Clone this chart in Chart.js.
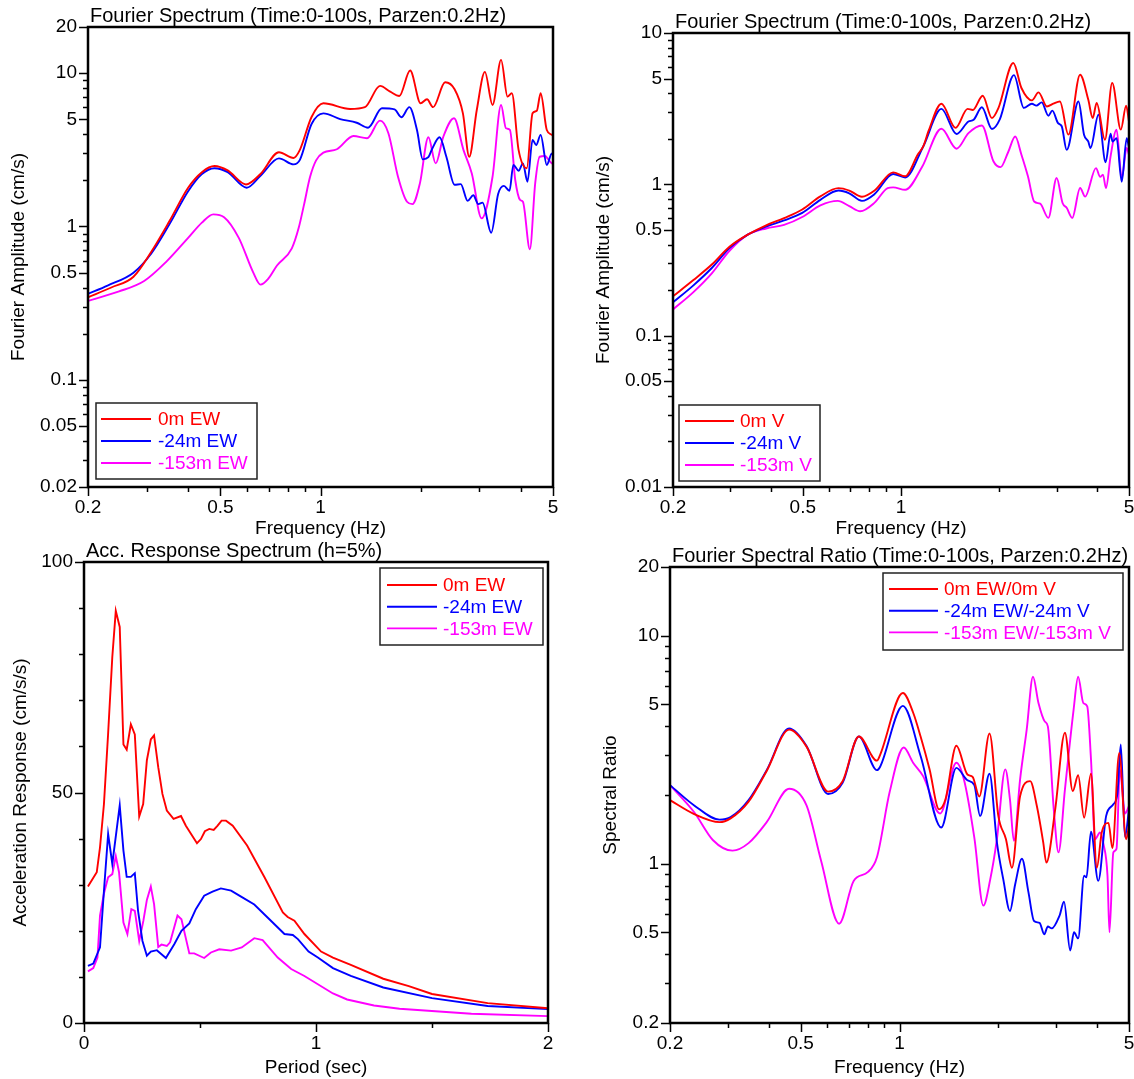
<!DOCTYPE html>
<html>
<head>
<meta charset="utf-8">
<script src="https://cdn.jsdelivr.net/npm/chart.js@4.4.1/dist/chart.umd.min.js"></script>
<style>
  html, body { margin: 0; padding: 0; background: #fff; overflow: hidden; }
  #wrap { position: relative; width: 1134px; height: 1079px; }
  canvas { position: absolute; }
</style>
</head>
<body>
<div id="wrap">
  <canvas id="fsEw" width="567" height="540" style="left:0;top:0"></canvas>
  <canvas id="fsV" width="567" height="540" style="left:567px;top:0"></canvas>
  <canvas id="rsEw" width="567" height="539" style="left:0;top:540px"></canvas>
  <canvas id="ratio" width="567" height="539" style="left:567px;top:540px"></canvas>
</div>
<script>
// ---- Fourier spectrum, EW (cm/s) ----
const ewFreq0 = [0.2, 0.235, 0.274, 0.31, 0.352, 0.40, 0.44, 0.48, 0.526, 0.597, 0.66, 0.75, 0.83, 0.867, 0.94, 1.02, 1.227, 1.36, 1.51, 1.62, 1.726, 1.86, 2.0, 2.09, 2.18, 2.37, 2.53, 2.68, 2.80, 2.95, 3.12, 3.29, 3.49, 3.65, 3.76, 3.94, 4.17, 4.34, 4.47, 4.59, 4.79, 4.96, 5.0];
const ewAmp0 = [0.345, 0.40, 0.47, 0.685, 1.09, 1.79, 2.26, 2.48, 2.32, 1.88, 2.2, 3.05, 2.8, 3.16, 5.18, 6.36, 5.84, 6.0, 8.26, 7.57, 7.1, 10.4, 6.36, 6.76, 6.0, 8.72, 7.85, 5.47, 2.85, 5.75, 10.2, 6.2, 12.2, 7.03, 7.4, 3.16, 2.4, 5.47, 5.69, 7.4, 4.26, 3.96, 3.9];
const ewFreq24 = [0.2, 0.229, 0.274, 0.31, 0.352, 0.40, 0.44, 0.48, 0.526, 0.6, 0.66, 0.75, 0.83, 0.867, 0.94, 1.02, 1.146, 1.285, 1.39, 1.53, 1.67, 1.75, 1.85, 1.95, 2.03, 2.11, 2.17, 2.28, 2.39, 2.53, 2.64, 2.77, 2.88, 2.98, 3.07, 3.26, 3.42, 3.56, 3.70, 3.80, 3.94, 4.06, 4.19, 4.34, 4.45, 4.59, 4.79, 4.96, 5.0];
const ewAmp24 = [0.364, 0.412, 0.5, 0.667, 1.04, 1.70, 2.2, 2.4, 2.26, 1.79, 2.14, 2.78, 2.54, 2.72, 4.66, 5.47, 5.02, 4.75, 4.41, 5.9, 5.8, 5.16, 6.0, 4.26, 2.74, 2.83, 3.24, 3.82, 2.85, 1.87, 1.89, 1.47, 1.6, 1.40, 1.43, 0.91, 1.63, 1.84, 1.71, 2.52, 2.31, 2.58, 1.96, 3.67, 3.4, 3.96, 2.52, 3.0, 2.9];
const ewFreq153 = [0.2, 0.248, 0.295, 0.343, 0.40, 0.44, 0.476, 0.513, 0.568, 0.628, 0.66, 0.694, 0.74, 0.82, 0.86, 0.893, 0.93, 0.97, 1.02, 1.12, 1.256, 1.38, 1.51, 1.6, 1.71, 1.82, 1.89, 1.99, 2.11, 2.22, 2.34, 2.52, 2.69, 2.85, 3.05, 3.29, 3.49, 3.61, 3.71, 3.85, 3.98, 4.06, 4.26, 4.42, 4.56, 4.73, 4.84, 4.96, 5.0];
const ewAmp153 = [0.327, 0.377, 0.441, 0.586, 0.843, 1.06, 1.2, 1.15, 0.843, 0.5, 0.418, 0.452, 0.557, 0.72, 0.98, 1.4, 2.1, 2.7, 3.03, 3.19, 3.89, 3.76, 4.9, 4.06, 2.11, 1.45, 1.40, 1.91, 3.82, 2.58, 3.85, 5.08, 3.16, 2.22, 1.13, 2.11, 6.2, 4.37, 4.26, 2.01, 1.49, 1.45, 0.71, 1.91, 2.85, 2.88, 2.74, 2.58, 2.55];

// ---- Fourier spectrum, V (cm/s) ----
const vFreq0 = [0.2, 0.231, 0.263, 0.298, 0.339, 0.386, 0.438, 0.498, 0.566, 0.643, 0.694, 0.759, 0.83, 0.946, 1.03, 1.127, 1.17, 1.217, 1.33, 1.47, 1.6, 1.66, 1.78, 1.9, 1.99, 2.21, 2.34, 2.52, 2.64, 2.8, 2.93, 3.07, 3.26, 3.54, 3.75, 3.87, 3.98, 4.22, 4.44, 4.72, 4.9, 5.0];
const vAmp0 = [0.182, 0.233, 0.295, 0.387, 0.465, 0.536, 0.598, 0.682, 0.833, 0.944, 0.91, 0.828, 0.91, 1.2, 1.13, 1.58, 1.78, 2.28, 3.41, 2.36, 3.15, 3.1, 3.85, 2.74, 3.2, 6.34, 4.33, 3.59, 4.05, 3.27, 3.41, 3.53, 2.13, 5.3, 3.63, 2.74, 3.45, 1.97, 4.68, 2.3, 3.31, 2.6];
const vFreq24 = [0.2, 0.231, 0.263, 0.298, 0.339, 0.386, 0.438, 0.498, 0.566, 0.643, 0.694, 0.759, 0.83, 0.946, 1.03, 1.17, 1.33, 1.48, 1.61, 1.67, 1.77, 1.9, 2.01, 2.22, 2.38, 2.52, 2.6, 2.7, 2.83, 2.91, 3.03, 3.11, 3.22, 3.5, 3.64, 3.75, 3.81, 4.03, 4.24, 4.39, 4.45, 4.58, 4.75, 4.92, 5.0];
const vAmp24 = [0.166, 0.215, 0.28, 0.379, 0.465, 0.525, 0.577, 0.647, 0.79, 0.91, 0.872, 0.777, 0.863, 1.17, 1.11, 1.78, 3.15, 2.15, 2.6, 2.67, 3.23, 2.32, 2.7, 5.27, 3.2, 3.41, 3.31, 3.48, 2.84, 3.07, 2.54, 2.42, 1.69, 3.53, 2.13, 1.92, 1.74, 2.88, 1.4, 2.16, 1.92, 2.02, 1.04, 2.02, 1.74];
const vFreq153 = [0.2, 0.231, 0.263, 0.298, 0.339, 0.386, 0.438, 0.498, 0.566, 0.64, 0.694, 0.75, 0.83, 0.91, 0.946, 1.03, 1.16, 1.33, 1.48, 1.61, 1.77, 1.92, 2.02, 2.13, 2.24, 2.34, 2.45, 2.56, 2.67, 2.83, 3.0, 3.13, 3.22, 3.35, 3.54, 3.67, 3.96, 4.08, 4.16, 4.25, 4.39, 4.58, 4.75, 4.92, 5.0];
const vAmp153 = [0.149, 0.194, 0.258, 0.364, 0.465, 0.511, 0.539, 0.608, 0.726, 0.777, 0.718, 0.664, 0.757, 0.944, 0.955, 0.92, 1.3, 2.33, 1.72, 2.18, 2.45, 1.42, 1.3, 1.63, 2.07, 1.57, 1.13, 0.77, 0.745, 0.6, 1.1, 0.75, 0.7, 0.6, 0.945, 0.83, 1.28, 1.12, 1.16, 0.945, 1.53, 2.3, 1.1, 1.74, 1.57];

// ---- Acceleration response spectrum, h=5% (cm/s/s) ----
const rsPer0 = [0.017, 0.055, 0.069, 0.086, 0.104, 0.122, 0.137, 0.154, 0.170, 0.184, 0.202, 0.219, 0.238, 0.255, 0.271, 0.288, 0.302, 0.320, 0.338, 0.357, 0.386, 0.418, 0.439, 0.487, 0.504, 0.521, 0.540, 0.559, 0.576, 0.593, 0.612, 0.641, 0.703, 0.778, 0.857, 0.878, 0.907, 0.95, 1.022, 1.073, 1.15, 1.29, 1.4, 1.5, 1.74, 2.0];
const rsAcc0 = [29.6, 32.7, 38.1, 47.5, 62.8, 79.4, 89.4, 85.9, 60.4, 59.3, 64.8, 62.6, 44.8, 47.5, 57.0, 61.5, 62.4, 55.5, 49.7, 46.1, 44.3, 44.9, 42.8, 39.0, 39.9, 41.6, 42.1, 41.9, 42.8, 43.9, 43.9, 42.8, 38.5, 31.6, 24.0, 23.0, 22.2, 19.3, 15.5, 14.2, 12.6, 9.6, 8.0, 6.3, 4.3, 3.2];
const rsPer24 = [0.017, 0.04, 0.069, 0.086, 0.104, 0.122, 0.154, 0.170, 0.184, 0.202, 0.219, 0.233, 0.252, 0.271, 0.288, 0.314, 0.353, 0.389, 0.42, 0.454, 0.482, 0.518, 0.554, 0.59, 0.634, 0.677, 0.734, 0.799, 0.864, 0.9, 0.922, 0.968, 1.008, 1.073, 1.15, 1.29, 1.5, 1.74, 2.0];
const rsAcc24 = [12.4, 12.9, 16.4, 28.7, 41.0, 34.5, 47.2, 37.4, 31.7, 31.7, 32.5, 24.3, 17.8, 14.6, 15.5, 15.8, 14.1, 17.1, 20.0, 21.6, 24.7, 27.6, 28.5, 29.2, 28.7, 27.4, 25.7, 22.5, 19.3, 19.1, 18.2, 15.5, 14.2, 11.9, 10.2, 7.7, 5.4, 3.7, 3.0];
const rsPer153 = [0.017, 0.04, 0.058, 0.069, 0.086, 0.104, 0.122, 0.137, 0.151, 0.170, 0.187, 0.204, 0.219, 0.238, 0.256, 0.271, 0.288, 0.302, 0.32, 0.334, 0.357, 0.371, 0.403, 0.42, 0.454, 0.475, 0.518, 0.547, 0.583, 0.634, 0.68, 0.734, 0.77, 0.835, 0.893, 0.95, 1.073, 1.134, 1.25, 1.36, 1.67, 2.0];
const rsAcc153 = [11.2, 11.9, 14.2, 23.3, 28.1, 31.6, 32.3, 36.2, 32.7, 21.8, 19.3, 24.7, 24.3, 17.8, 22.2, 26.7, 29.6, 25.8, 16.5, 17.0, 16.7, 17.5, 23.3, 22.5, 15.1, 15.1, 14.1, 15.3, 16.0, 15.7, 16.4, 18.4, 18.0, 14.2, 11.7, 10.2, 6.4, 5.1, 3.8, 3.1, 2.0, 1.5];

// ---- Fourier spectral ratio EW/V ----
const srFreq0 = [0.2, 0.237, 0.283, 0.306, 0.347, 0.394, 0.461, 0.521, 0.606, 0.671, 0.752, 0.854, 0.873, 1.024, 1.1, 1.16, 1.234, 1.32, 1.38, 1.49, 1.61, 1.67, 1.75, 1.88, 2.0, 2.11, 2.2, 2.33, 2.5, 2.62, 2.74, 2.8, 2.98, 3.19, 3.37, 3.5, 3.65, 3.83, 3.99, 4.13, 4.33, 4.45, 4.67, 4.9, 5.0];
const srRatio0 = [1.9, 1.65, 1.52, 1.58, 1.87, 2.55, 3.87, 3.26, 2.07, 2.3, 3.61, 2.83, 3.0, 5.6, 4.6, 3.6, 2.6, 1.73, 1.91, 3.29, 2.46, 2.4, 1.97, 3.72, 1.62, 1.28, 0.96, 1.98, 2.3, 1.79, 1.24, 1.01, 1.73, 3.75, 2.08, 2.44, 1.59, 2.48, 0.96, 1.37, 1.51, 1.17, 3.06, 1.28, 1.47];
const srFreq24 = [0.2, 0.237, 0.283, 0.306, 0.347, 0.394, 0.461, 0.521, 0.606, 0.671, 0.752, 0.854, 0.873, 1.024, 1.16, 1.34, 1.49, 1.61, 1.69, 1.76, 1.88, 1.98, 2.07, 2.17, 2.25, 2.36, 2.47, 2.57, 2.67, 2.76, 2.83, 2.91, 3.07, 3.17, 3.31, 3.4, 3.5, 3.65, 3.71, 3.83, 4.03, 4.26, 4.48, 4.61, 4.72, 4.86, 5.0];
const srRatio24 = [2.21, 1.8, 1.56, 1.6, 1.9, 2.57, 3.92, 3.28, 2.02, 2.26, 3.61, 2.57, 2.66, 4.92, 2.96, 1.44, 2.63, 2.32, 2.21, 1.62, 2.48, 1.24, 0.855, 0.62, 0.81, 1.05, 0.75, 0.56, 0.55, 0.49, 0.53, 0.52, 0.59, 0.68, 0.416, 0.5, 0.47, 0.885, 0.87, 1.38, 0.84, 1.62, 1.82, 2.03, 3.33, 1.31, 1.73];
const srFreq153 = [0.2, 0.237, 0.27, 0.31, 0.347, 0.394, 0.461, 0.521, 0.577, 0.655, 0.725, 0.802, 0.854, 0.934, 1.03, 1.1, 1.18, 1.33, 1.49, 1.57, 1.69, 1.8, 1.89, 1.98, 2.1, 2.17, 2.23, 2.33, 2.44, 2.55, 2.65, 2.77, 2.83, 2.95, 3.05, 3.19, 3.39, 3.5, 3.63, 3.73, 3.83, 3.94, 4.08, 4.18, 4.3, 4.36, 4.48, 4.58, 4.69, 4.86, 5.0];
const srRatio153 = [2.21, 1.68, 1.27, 1.14, 1.23, 1.52, 2.13, 1.8, 1.03, 0.545, 0.84, 0.92, 1.07, 2.07, 3.23, 2.77, 2.42, 1.66, 2.77, 2.35, 1.3, 0.655, 0.855, 1.28, 2.59, 1.91, 1.26, 2.35, 3.87, 6.6, 5.06, 4.2, 4.0, 1.73, 1.12, 2.11, 4.73, 6.6, 5.06, 4.9, 2.87, 1.28, 1.37, 1.22, 0.885, 0.5, 1.12, 1.16, 2.59, 1.66, 1.79];

// tick labels
const freqTicks = [0.2, 0.5, 1, 5];
const fsEwTicks = [0.02, 0.05, 0.1, 0.5, 1, 5, 10, 20];
const fsVTicks = [0.01, 0.05, 0.1, 0.5, 1, 5, 10];
const rsPerTicks = [0, 1, 2];
const rsAccTicks = [0, 50, 100];
const ratioTicks = [0.2, 0.5, 1, 5, 10, 20];

const colors = ['#ff0000', '#0000ff', '#ff00ff'];
Chart.defaults.font.family = "'Liberation Sans', Arial, sans-serif";
Chart.defaults.font.size = 19;
Chart.defaults.color = '#000';

// unlabelled tick marks between the labelled ones (1..9 x decade)
function logMinors(lo, hi, majors) {
  const out = [];
  for (let d = Math.floor(Math.log10(lo)); d <= Math.ceil(Math.log10(hi)); d++) {
    for (let m = 1; m < 10; m++) {
      const v = +(m * Math.pow(10, d)).toPrecision(3);
      if (v >= lo && v <= hi && !majors.includes(v)) out.push(v);
    }
  }
  return out;
}

// box around the plot, outward ticks, title and the boxed legend
const framePlugin = {
  id: 'frame',
  afterDraw(chart, args, opts) {
    const { ctx, chartArea: a, scales } = chart;
    ctx.save();
    ctx.strokeStyle = '#000';
    ctx.lineWidth = 1.5;
    const xMarks = scales.x.ticks.map(t => [t.value, 9]).concat(opts.xMinor.map(v => [v, 5]));
    const yMarks = scales.y.ticks.map(t => [t.value, 9]).concat(opts.yMinor.map(v => [v, 5]));
    ctx.beginPath();
    xMarks.forEach(([v, len]) => {
      const px = Math.round(scales.x.getPixelForValue(v)) + 0.5;
      ctx.moveTo(px, a.bottom); ctx.lineTo(px, a.bottom + len);
    });
    yMarks.forEach(([v, len]) => {
      const py = Math.round(scales.y.getPixelForValue(v)) + 0.5;
      ctx.moveTo(a.left, py); ctx.lineTo(a.left - len, py);
    });
    ctx.stroke();

    ctx.lineWidth = 2.5;
    ctx.strokeRect(a.left, a.top, a.right - a.left, a.bottom - a.top);

    ctx.font = "20px 'Liberation Sans', Arial, sans-serif";
    ctx.fillStyle = '#000';
    ctx.textAlign = 'left';
    ctx.textBaseline = 'alphabetic';
    ctx.fillText(opts.title, a.left + 2, a.top - 5);

    const lg = opts.legend;
    ctx.font = "19px 'Liberation Sans', Arial, sans-serif";
    ctx.fillStyle = '#fff';
    ctx.fillRect(lg.x, lg.y, lg.w, lg.h);
    ctx.strokeStyle = '#222';
    ctx.lineWidth = 1.5;
    ctx.strokeRect(lg.x, lg.y, lg.w, lg.h);
    ctx.textBaseline = 'middle';
    chart.data.datasets.forEach((ds, i) => {
      const y = lg.row0 + i * lg.step;
      ctx.strokeStyle = ds.borderColor;
      ctx.lineWidth = 1.9;
      ctx.beginPath(); ctx.moveTo(lg.line0, y); ctx.lineTo(lg.line1, y); ctx.stroke();
      ctx.fillStyle = ds.borderColor;
      ctx.fillText(ds.label, lg.text, y + 1);
    });
    ctx.restore();
  }
};

function makePanel(id, cfg) {
  const datasets = cfg.series.map((s, i) => ({
    label: s.label,
    data: s.x.map((v, k) => ({ x: v, y: s.y[k] })),
    borderColor: colors[i],
    borderWidth: 1.9,
    pointRadius: 0,
    fill: false,
    tension: cfg.smooth ? 0.4 : 0,
    cubicInterpolationMode: cfg.smooth ? 'monotone' : 'default'
  }));

  return new Chart(document.getElementById(id), {
    type: 'line',
    data: { datasets },
    options: {
      responsive: false,
      animation: false,
      events: [],
      layout: { padding: { top: cfg.top, right: cfg.right, left: 0, bottom: 0 } },
      plugins: {
        legend: { display: false },
        tooltip: { enabled: false },
        frame: {
          title: cfg.title,
          xMinor: cfg.xMinor,
          yMinor: cfg.yMinor,
          legend: cfg.legend
        }
      },
      scales: {
        x: {
          type: cfg.xType,
          min: cfg.xTicks[0],
          max: cfg.xTicks[cfg.xTicks.length - 1],
          afterBuildTicks: s => { s.ticks = cfg.xTicks.map(v => ({ value: v })); },
          // fixed height, and let the end labels hang past the plot edge
          afterFit: s => { s.height = cfg.bottom; s.paddingLeft = 0; s.paddingRight = 0; },
          grid: { display: false, drawTicks: false },
          border: { display: false },
          ticks: { autoSkip: false, maxRotation: 0, minRotation: 0, padding: 9, callback: v => String(v) },
          title: { display: true, text: cfg.xTitle, padding: { top: 0, bottom: 0 } }
        },
        y: {
          type: cfg.yType,
          min: cfg.yTicks[0],
          max: cfg.yTicks[cfg.yTicks.length - 1],
          afterBuildTicks: s => { s.ticks = cfg.yTicks.map(v => ({ value: v })); },
          afterFit: s => { s.width = cfg.left; s.paddingTop = 0; s.paddingBottom = 0; },
          grid: { display: false, drawTicks: false },
          border: { display: false },
          ticks: { autoSkip: false, padding: 11, callback: v => String(v) },
          title: { display: true, text: cfg.yTitle, padding: { top: cfg.yTitlePad, bottom: 0 } }
        }
      }
    },
    plugins: [framePlugin]
  });
}

makePanel('fsEw', {
  title: 'Fourier Spectrum (Time:0-100s, Parzen:0.2Hz)',
  xTitle: 'Frequency (Hz)', yTitle: 'Fourier Amplitude (cm/s)',
  xType: 'logarithmic', yType: 'logarithmic', smooth: true,
  xTicks: freqTicks, yTicks: fsEwTicks,
  xMinor: logMinors(0.2, 5, freqTicks), yMinor: logMinors(0.02, 20, fsEwTicks),
  left: 88, right: 14, top: 27, bottom: 53, yTitlePad: 7,
  legend: { x: 96, y: 403, w: 161, h: 76, line0: 101, line1: 151, text: 158, row0: 419, step: 22 },
  series: [
    { label: '0m EW', x: ewFreq0, y: ewAmp0 },
    { label: '-24m EW', x: ewFreq24, y: ewAmp24 },
    { label: '-153m EW', x: ewFreq153, y: ewAmp153 }
  ]
});

makePanel('fsV', {
  title: 'Fourier Spectrum (Time:0-100s, Parzen:0.2Hz)',
  xTitle: 'Frequency (Hz)', yTitle: 'Fourier Amplitude (cm/s)',
  xType: 'logarithmic', yType: 'logarithmic', smooth: true,
  xTicks: freqTicks, yTicks: fsVTicks,
  xMinor: logMinors(0.2, 5, freqTicks), yMinor: logMinors(0.01, 10, fsVTicks),
  left: 106, right: 5, top: 33, bottom: 53, yTitlePad: 25,
  legend: { x: 112, y: 405, w: 141, h: 76, line0: 118, line1: 167, text: 173, row0: 421, step: 22 },
  series: [
    { label: '0m V', x: vFreq0, y: vAmp0 },
    { label: '-24m V', x: vFreq24, y: vAmp24 },
    { label: '-153m V', x: vFreq153, y: vAmp153 }
  ]
});

makePanel('rsEw', {
  title: 'Acc. Response Spectrum (h=5%)',
  xTitle: 'Period (sec)', yTitle: 'Acceleration Response (cm/s/s)',
  xType: 'linear', yType: 'linear', smooth: false,
  xTicks: rsPerTicks, yTicks: rsAccTicks,
  xMinor: [0.5, 1.5], yMinor: [10, 20, 30, 40, 60, 70, 80, 90],
  left: 84, right: 19, top: 22, bottom: 56, yTitlePad: 9,
  legend: { x: 380, y: 28, w: 163, h: 77, line0: 387, line1: 437, text: 443, row0: 45, step: 21.7 },
  series: [
    { label: '0m EW', x: rsPer0, y: rsAcc0 },
    { label: '-24m EW', x: rsPer24, y: rsAcc24 },
    { label: '-153m EW', x: rsPer153, y: rsAcc153 }
  ]
});

makePanel('ratio', {
  title: 'Fourier Spectral Ratio (Time:0-100s, Parzen:0.2Hz)',
  xTitle: 'Frequency (Hz)', yTitle: 'Spectral Ratio',
  xType: 'logarithmic', yType: 'logarithmic', smooth: true,
  xTicks: freqTicks, yTicks: ratioTicks,
  xMinor: logMinors(0.2, 5, freqTicks), yMinor: logMinors(0.2, 20, ratioTicks),
  left: 103, right: 5, top: 27, bottom: 56, yTitlePad: 32,
  legend: { x: 316, y: 33, w: 240, h: 77, line0: 322, line1: 371, text: 377, row0: 49, step: 21.7 },
  series: [
    { label: '0m EW/0m V', x: srFreq0, y: srRatio0 },
    { label: '-24m EW/-24m V', x: srFreq24, y: srRatio24 },
    { label: '-153m EW/-153m V', x: srFreq153, y: srRatio153 }
  ]
});
</script>
</body>
</html>
